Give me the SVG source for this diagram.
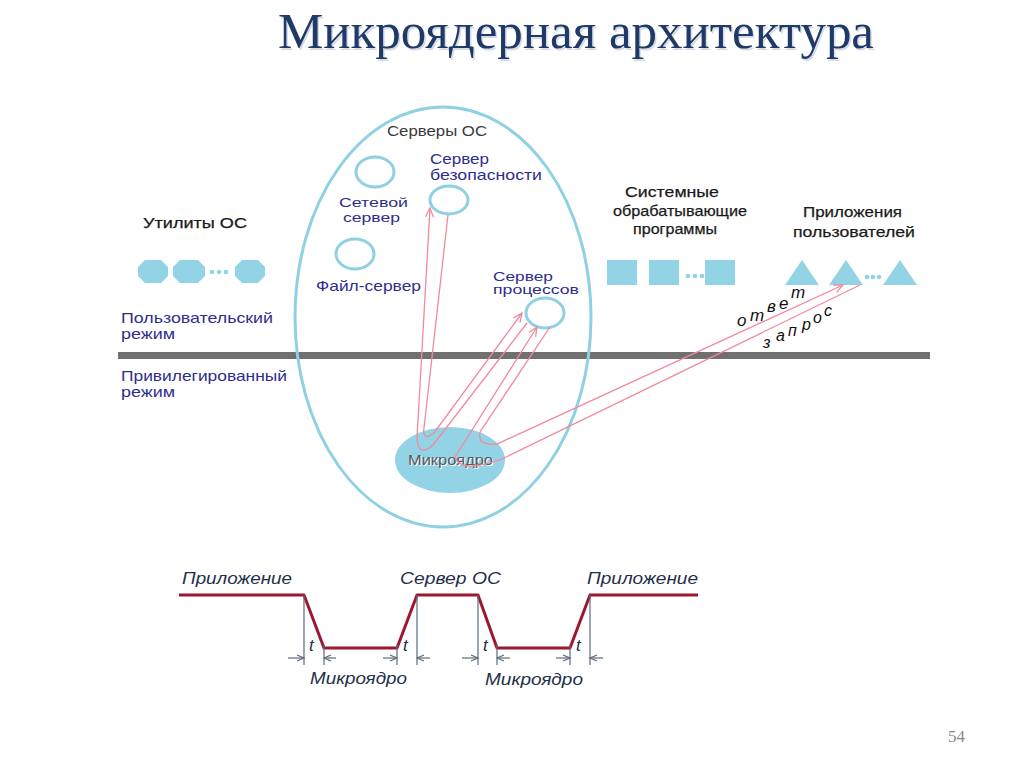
<svg xmlns="http://www.w3.org/2000/svg" width="1024" height="767" viewBox="0 0 1024 767">
<style>
.lbl{font-family:"Liberation Sans",Arial,sans-serif;font-size:15px;fill:#2e2e8c}
.sm{font-size:13.5px}
.dk{font-family:"Liberation Sans",Arial,sans-serif;font-size:15px;fill:#1a1a1a;stroke:#1a1a1a;stroke-width:0.25}
.gr{font-family:"Liberation Sans",Arial,sans-serif;font-size:14px;fill:#3a3a3a}
.tl{font-family:"Liberation Sans",Arial,sans-serif;font-size:17px;font-style:italic;fill:#24304a}
.sh{fill:#93d3e6}
.ring{fill:none;stroke:#8fd0e3;stroke-width:3}
.pk{fill:none;stroke:#f2899c;stroke-width:1.3}
.tw{fill:none;stroke:#9c1830;stroke-width:3;stroke-linejoin:round}
.dim{fill:none;stroke:#5d6b7c;stroke-width:1.2}
.sl{font-family:"Liberation Sans",Arial,sans-serif;font-style:italic;fill:#111}
</style>
<defs>
<marker id="pa" markerUnits="userSpaceOnUse" markerWidth="12" markerHeight="12" refX="10" refY="5" orient="auto">
<path d="M1,1 L10,5 L1,9" fill="none" stroke="#f2899c" stroke-width="1.3"/>
</marker>
<marker id="da" markerUnits="userSpaceOnUse" markerWidth="10" markerHeight="10" refX="8" refY="4" orient="auto">
<path d="M1,1 L8,4 L1,7" fill="none" stroke="#5d6b7c" stroke-width="1.2"/>
</marker>
</defs>
<rect width="1024" height="767" fill="#ffffff"/>

<g id="title">
<text x="576" y="48" text-anchor="middle" font-family="'Liberation Serif','Times New Roman',serif" font-size="50" fill="#d6dce5" textLength="596" lengthAdjust="spacingAndGlyphs" transform="translate(1.5,1.5)">Микроядерная архитектура</text>
<text x="576" y="48" text-anchor="middle" font-family="'Liberation Serif','Times New Roman',serif" font-size="50" fill="#1f3a68" textLength="596" lengthAdjust="spacingAndGlyphs">Микроядерная архитектура</text>
</g>

<g id="mode-bar">
<rect x="118" y="352" width="812" height="7" fill="#707070"/>
<text class="lbl" x="121" y="323" textLength="152" lengthAdjust="spacingAndGlyphs">Пользовательский</text>
<text class="lbl" x="121" y="339" textLength="54" lengthAdjust="spacingAndGlyphs">режим</text>
<text class="lbl" x="121" y="381" textLength="166" lengthAdjust="spacingAndGlyphs">Привилегированный</text>
<text class="lbl" x="121" y="397" textLength="54" lengthAdjust="spacingAndGlyphs">режим</text>
</g>

<g id="os-servers">
<ellipse class="ring" cx="443" cy="317" rx="148" ry="210"/>
<text class="gr" x="387" y="136" textLength="100" lengthAdjust="spacingAndGlyphs">Серверы ОС</text>
</g>

<g id="net-server">
<ellipse class="ring" cx="375" cy="172" rx="19" ry="15"/>
<text class="lbl sm" x="339" y="207" textLength="69" lengthAdjust="spacingAndGlyphs">Сетевой</text>
<text class="lbl sm" x="343" y="222" textLength="57" lengthAdjust="spacingAndGlyphs">сервер</text>
</g>

<g id="sec-server">
<ellipse class="ring" cx="449" cy="200" rx="19" ry="14"/>
<text class="lbl" x="430" y="164" textLength="59" lengthAdjust="spacingAndGlyphs">Сервер</text>
<text class="lbl" x="430" y="180" textLength="112" lengthAdjust="spacingAndGlyphs">безопасности</text>
</g>

<g id="file-server">
<ellipse class="ring" cx="355" cy="254" rx="19" ry="15"/>
<text class="lbl" x="316" y="291" textLength="105" lengthAdjust="spacingAndGlyphs">Файл-сервер</text>
</g>

<g id="proc-server">
<ellipse class="ring" cx="545" cy="313" rx="19" ry="15"/>
<text class="lbl sm" x="493" y="281" textLength="60" lengthAdjust="spacingAndGlyphs">Сервер</text>
<text class="lbl sm" x="493" y="294" textLength="86" lengthAdjust="spacingAndGlyphs">процессов</text>
</g>

<g id="microkernel">
<ellipse class="sh" cx="450" cy="460" rx="55" ry="33"/>
<text x="409" y="466" font-family="'Liberation Sans',Arial,sans-serif" font-size="15" fill="#ffffff" textLength="85" lengthAdjust="spacingAndGlyphs">Микроядро</text>
<text x="408" y="465" font-family="'Liberation Sans',Arial,sans-serif" font-size="15" fill="#5a5a5a" textLength="85" lengthAdjust="spacingAndGlyphs">Микроядро</text>
</g>

<g id="os-utilities">
<text class="dk" x="143" y="228" textLength="104" lengthAdjust="spacingAndGlyphs">Утилиты ОС</text>
<path class="sh" d="M145,260 H161 L168,267 V276 L161,283 H145 L138,276 V267 Z"/>
<path class="sh" d="M180,260 H198 L205,267 V276 L198,283 H180 L173,276 V267 Z"/>
<path class="sh" d="M242,260 H258 L265,267 V276 L258,283 H242 L235,276 V267 Z"/>
<circle class="sh" cx="212" cy="272" r="2.3"/>
<circle class="sh" cx="219" cy="272" r="2.3"/>
<circle class="sh" cx="226" cy="272" r="2.3"/>
</g>

<g id="system-programs">
<text class="dk" x="625" y="197" textLength="94" lengthAdjust="spacingAndGlyphs">Системные</text>
<text class="dk" x="613" y="216" textLength="134" lengthAdjust="spacingAndGlyphs">обрабатывающие</text>
<text class="dk" x="633" y="234" textLength="84" lengthAdjust="spacingAndGlyphs">программы</text>
<rect class="sh" x="607" y="260" width="30" height="25"/>
<rect class="sh" x="649" y="260" width="30" height="25"/>
<rect class="sh" x="705" y="260" width="30" height="25"/>
<circle class="sh" cx="688" cy="276" r="2.3"/>
<circle class="sh" cx="695" cy="276" r="2.3"/>
<circle class="sh" cx="702" cy="276" r="2.3"/>
</g>

<g id="user-apps">
<text class="dk" x="803" y="217" textLength="99" lengthAdjust="spacingAndGlyphs">Приложения</text>
<text class="dk" x="793" y="237" textLength="122" lengthAdjust="spacingAndGlyphs">пользователей</text>
<polygon class="sh" points="802,260 819,285 785,285"/>
<polygon class="sh" points="846,260 863,285 829,285"/>
<polygon class="sh" points="900,260 917,285 883,285"/>
<circle class="sh" cx="867" cy="277" r="2.3"/>
<circle class="sh" cx="873" cy="277" r="2.3"/>
<circle class="sh" cx="879" cy="277" r="2.3"/>
</g>

<g id="connectors">
<path class="pk" d="M448,215 L424,428 Q422,442 434,433 L522,313" marker-end="url(#pa)"/>
<path class="pk" d="M527,323 L433,445 Q418,458 417,438 L430,208" marker-end="url(#pa)"/>
<path class="pk" d="M860,285 L502,459 Q460,474 455,457 L537,327" marker-end="url(#pa)"/>
<path class="pk" d="M550,327 L480,432 Q477,446 497,444 L843,285" marker-end="url(#pa)"/>
<text class="sl" font-size="17" x="737 750 767 779 791" y="326 321 312 309 298">ответ</text>
<text class="sl" font-size="16" x="763 776 788 802 813 824" y="348 341 336 330 323 316">запрос</text>
</g>

<g id="timeline">
<polyline class="tw" points="179,595 304,595 324,648 397,648 417,595 478,595 497,648 570,648 590,595 698,595"/>
<g class="dim">
<line x1="304" y1="595" x2="304" y2="665"/>
<line x1="324" y1="645" x2="324" y2="665"/>
<line x1="397" y1="645" x2="397" y2="665"/>
<line x1="417" y1="595" x2="417" y2="665"/>
<line x1="478" y1="595" x2="478" y2="665"/>
<line x1="497" y1="645" x2="497" y2="665"/>
<line x1="570" y1="645" x2="570" y2="665"/>
<line x1="590" y1="595" x2="590" y2="665"/>
<line x1="288" y1="658" x2="304" y2="658" marker-end="url(#da)"/>
<line x1="336" y1="658" x2="324" y2="658" marker-end="url(#da)"/>
<line x1="383" y1="658" x2="397" y2="658" marker-end="url(#da)"/>
<line x1="430" y1="658" x2="417" y2="658" marker-end="url(#da)"/>
<line x1="462" y1="658" x2="478" y2="658" marker-end="url(#da)"/>
<line x1="510" y1="658" x2="497" y2="658" marker-end="url(#da)"/>
<line x1="556" y1="658" x2="570" y2="658" marker-end="url(#da)"/>
<line x1="603" y1="658" x2="590" y2="658" marker-end="url(#da)"/>
</g>
<text class="tl" x="309" y="651">t</text>
<text class="tl" x="403" y="651">t</text>
<text class="tl" x="483" y="651">t</text>
<text class="tl" x="576" y="651">t</text>
<text class="tl" x="182" y="584" textLength="110" lengthAdjust="spacingAndGlyphs">Приложение</text>
<text class="tl" x="400" y="584" textLength="101" lengthAdjust="spacingAndGlyphs">Сервер ОС</text>
<text class="tl" x="587" y="584" textLength="111" lengthAdjust="spacingAndGlyphs">Приложение</text>
<text class="tl" x="310" y="684" textLength="97" lengthAdjust="spacingAndGlyphs">Микроядро</text>
<text class="tl" x="485" y="685" textLength="98" lengthAdjust="spacingAndGlyphs">Микроядро</text>
</g>

<text x="948" y="742" font-family="'Liberation Serif','Times New Roman',serif" font-size="17" fill="#8a8a8a">54</text>
</svg>
